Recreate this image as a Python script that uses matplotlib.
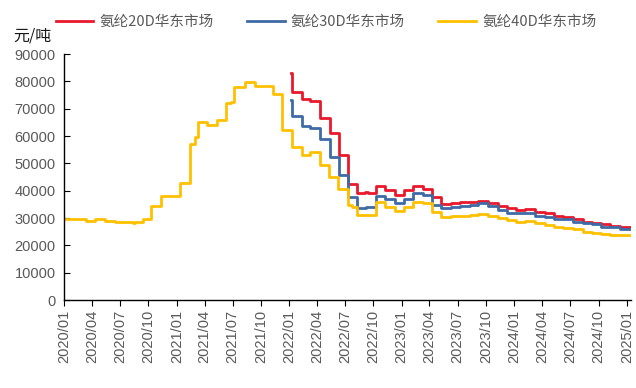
import numpy as np
import pandas as pd
import matplotlib
matplotlib.use('Agg')
import matplotlib.pyplot as plt
import matplotlib.dates as mdates

plt.rcParams['font.family'] = ['Liberation Sans', 'Noto Sans CJK SC', 'DejaVu Sans']

# 氨纶40D 华东市场 (元/吨), 调价日期 + 价格
d40 = ['2020-01-08', '2020-03-13', '2020-04-10', '2020-05-13', '2020-06-13', '2020-08-13', '2020-08-20',
       '2020-09-13', '2020-10-10', '2020-11-10', '2021-01-13', '2021-02-13', '2021-03-01', '2021-03-10',
       '2021-04-10', '2021-05-13', '2021-06-10', '2021-06-25', '2021-07-07', '2021-08-10', '2021-09-13',
       '2021-11-10', '2021-12-10', '2022-01-10', '2022-02-10', '2022-03-10', '2022-04-10', '2022-05-10',
       '2022-06-07', '2022-07-10', '2022-07-25', '2022-08-10', '2022-10-10', '2022-11-07', '2022-12-10',
       '2023-01-07', '2023-02-07', '2023-03-10', '2023-04-10', '2023-05-10', '2023-06-10', '2023-07-10',
       '2023-08-10', '2023-09-07', '2023-10-07', '2023-11-10', '2023-12-07', '2024-01-07', '2024-02-04',
       '2024-03-07', '2024-04-10', '2024-05-10', '2024-06-07', '2024-07-10', '2024-08-10', '2024-09-10',
       '2024-10-10', '2024-11-07', '2025-01-10']
p40 = [29500, 29000, 29500, 29000, 28400, 28000, 28400,
       29500, 34500, 38200, 42700, 57100, 59800, 65000,
       64000, 65900, 72000, 72500, 78000, 79900, 78300,
       75400, 62200, 56100, 53000, 54000, 49400, 44900,
       40600, 34800, 34100, 31100, 36000, 34100, 32500,
       34100, 36000, 35400, 32300, 30500, 30600, 30800,
       31000, 31500, 30700, 30100, 29200, 28400, 28800,
       28300, 27600, 26800, 26500, 25900, 25000, 24600,
       24100, 23700, 23700]

# 氨纶30D
d30 = ['2022-01-07', '2022-01-10', '2022-02-10', '2022-03-10', '2022-04-10', '2022-05-12', '2022-06-10',
       '2022-07-10', '2022-08-10', '2022-09-07', '2022-10-10', '2022-11-07', '2022-12-10', '2023-01-07',
       '2023-02-07', '2023-03-10', '2023-04-10', '2023-05-10', '2023-06-10', '2023-07-10', '2023-08-10',
       '2023-09-07', '2023-10-07', '2023-11-10', '2023-12-07', '2024-01-07', '2024-02-04', '2024-03-07',
       '2024-04-10', '2024-05-10', '2024-06-07', '2024-07-10', '2024-08-10', '2024-09-10', '2024-10-10',
       '2024-11-07', '2024-12-10', '2025-01-10']
p30 = [73200, 67300, 63700, 62800, 58800, 52400, 45700,
       37800, 33500, 34100, 38000, 36800, 35600, 36800,
       39000, 38400, 34800, 33500, 34100, 34300, 34600,
       35400, 34400, 33000, 31900, 31700, 31900, 30800,
       30500, 29500, 29500, 28400, 28100, 27700, 26800,
       26600, 26100, 26100]

# 氨纶20D
d20 = ['2022-01-07', '2022-01-10', '2022-02-10', '2022-03-10', '2022-04-10', '2022-05-12', '2022-06-10',
       '2022-07-10', '2022-08-10', '2022-09-05', '2022-09-12', '2022-10-10', '2022-11-07', '2022-12-10',
       '2023-01-07', '2023-02-07', '2023-03-10', '2023-04-10', '2023-05-10', '2023-06-10', '2023-07-10',
       '2023-08-10', '2023-09-07', '2023-10-07', '2023-11-10', '2023-12-07', '2024-01-07', '2024-02-04',
       '2024-03-07', '2024-04-10', '2024-05-10', '2024-06-07', '2024-07-10', '2024-08-10', '2024-09-10',
       '2024-10-10', '2024-11-07', '2024-12-10', '2025-01-10']
p20 = [83200, 76000, 73400, 72900, 66500, 61200, 53100,
       42400, 39000, 39500, 39000, 41700, 40200, 38400,
       40200, 41700, 40500, 37600, 35100, 35600, 35700,
       35800, 36300, 35600, 34400, 33500, 32900, 33200,
       32300, 31900, 30800, 30500, 29500, 28600, 28300,
       27800, 27100, 26600, 26600]

names = ['氨纶20D华东市场', '氨纶30D华东市场', '氨纶40D华东市场']
colors = ['#E8192C', '#3E6BA6', '#FFC000']

fig = plt.figure(figsize=(6.36, 3.88), dpi=100)
ax = fig.add_axes([64/636, 1 - 300/388, 567/636, 246/388])

for d, p, n, c in zip([d20, d30, d40], [p20, p30, p40], names, colors):
    ax.plot(pd.to_datetime(d), p, drawstyle='steps-post', color=c, lw=2.0, label=n)

ax.set_ylim(0, 90000)
ax.set_yticks(np.arange(0, 90001, 10000))
ax.set_xlim(pd.Timestamp('2020-01-01'), pd.Timestamp('2025-01-14'))
ticks = pd.date_range('2020-01-01', '2025-01-01', freq='3MS')
ax.set_xticks(ticks)
ax.xaxis.set_major_formatter(mdates.DateFormatter('%Y/%m'))

for s in ['top', 'right']:
    ax.spines[s].set_visible(False)
for s in ['left', 'bottom']:
    ax.spines[s].set_color('#000000')
    ax.spines[s].set_linewidth(1.0)

ax.tick_params(axis='y', direction='in', length=4, colors='#000000', labelcolor='#595959', labelsize=10.5, pad=6)
ax.tick_params(axis='x', direction='out', length=4, colors='#000000', labelcolor='#595959', labelsize=10.5,
               labelrotation=90, pad=3)

fig.text(13/636, 1 - 36/388, '元/吨', fontsize=11.5, color='#1a1a1a', va='center',
         family=['Noto Sans CJK SC', 'DejaVu Sans'])

fig.legend(loc='center', bbox_to_anchor=(326/636, 1 - 22/388), ncol=3, frameon=False,
           handlelength=2.6, handletextpad=0.4, columnspacing=2.3,
           labelcolor='#595959', prop={'family': ['Noto Sans CJK SC', 'DejaVu Sans'], 'size': 10.5})

fig.savefig('out.png', dpi=100)
